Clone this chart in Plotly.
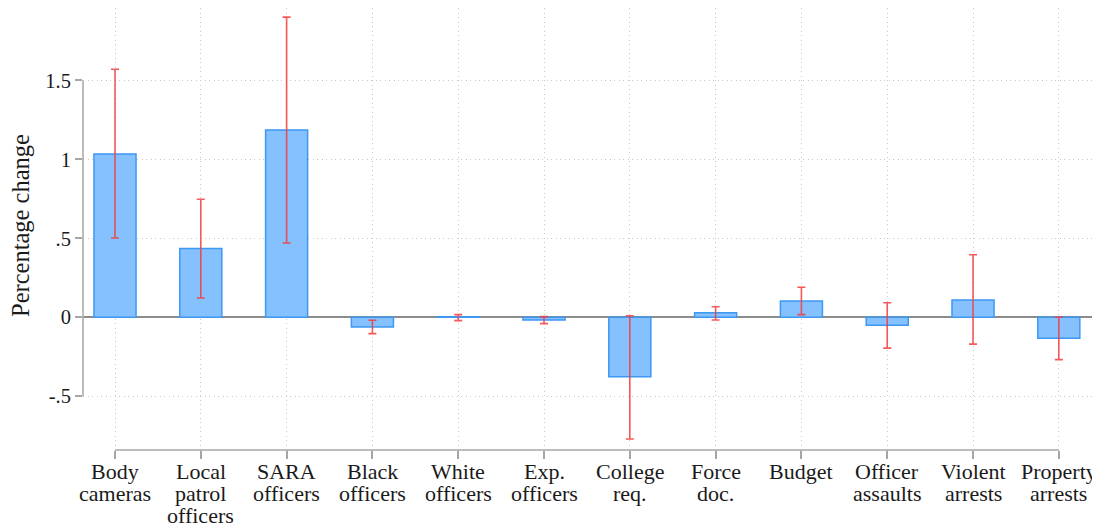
import plotly.graph_objects as go

categories = ["Body<br>cameras", "Local<br>patrol<br>officers", "SARA<br>officers", "Black<br>officers",
              "White<br>officers", "Exp.<br>officers", "College<br>req.", "Force<br>doc.", "Budget",
              "Officer<br>assaults", "Violent<br>arrests", "Property<br>arrests"]
estimates = [1.034, 0.435, 1.185, -0.061, 0.003, -0.017, -0.377, 0.029, 0.103, -0.050, 0.109, -0.133]
ci_upper = [1.570, 0.747, 1.900, -0.019, 0.017, 0.004, 0.010, 0.067, 0.190, 0.092, 0.396, 0.000]
ci_lower = [0.502, 0.122, 0.470, -0.103, -0.021, -0.040, -0.770, -0.017, 0.017, -0.195, -0.170, -0.268]
y_ticks = [-0.5, 0, 0.5, 1, 1.5]
y_tick_labels = ["-.5", "0", ".5", "1", "1.5"]
y_title = "Percentage change"

FONT = "Liberation Serif, Times New Roman, serif"
AXIS_COLOR = "#a6a6a6"
TEXT_COLOR = "#1a1a1a"
GRID_COLOR = "#c8c8c8"
GRID_DASH = "1px,3.5px"

err_plus = [u - e for u, e in zip(ci_upper, estimates)]
err_minus = [e - l for e, l in zip(estimates, ci_lower)]

fig = go.Figure()
fig.add_trace(go.Bar(
    x=categories, y=estimates, width=0.49,
    marker=dict(color="#85c1ff", line=dict(color="#3d98f2", width=1.5)),
    error_y=dict(type="data", symmetric=False, array=err_plus, arrayminus=err_minus,
                 color="rgba(245,60,60,0.85)", thickness=1.6, width=4),
    showlegend=False,
))

# Stata-style axis lines spanning only the tick range
fig.add_shape(type="line", xref="x", yref="paper", x0=categories[0], x1=categories[-1], y0=0, y1=0,
              line=dict(color=AXIS_COLOR, width=1.5))
fig.add_shape(type="line", xref="paper", yref="y", x0=0, x1=0, y0=min(y_ticks), y1=max(y_ticks),
              line=dict(color=AXIS_COLOR, width=1.5))

# x tick labels with tight line spacing (one annotation per line)
annotations = []
for cat in categories:
    for i, line in enumerate(cat.split("<br>")):
        annotations.append(dict(
            x=cat, xref="x", y=0, yref="paper", yanchor="middle", xanchor="center",
            yshift=-(21 + 22 * i), text=line, showarrow=False,
            font=dict(family=FONT, size=22, color=TEXT_COLOR),
        ))
annotations.append(dict(
    x=0, xref="paper", y=0.5, yref="paper", xanchor="center", yanchor="middle",
    xshift=-63, yshift=3, text=y_title, textangle=-90, showarrow=False,
    font=dict(family=FONT, size=24.5, color=TEXT_COLOR),
))

# page has an 8px body margin, so the figure is sized to fit the 1100x525 window
fig.update_layout(
    width=1092, height=517,
    margin=dict(l=75, r=6, t=0, b=75),
    plot_bgcolor="white", paper_bgcolor="white",
    font=dict(family=FONT, size=20, color=TEXT_COLOR),
    annotations=annotations,
)
fig.update_xaxes(
    type="category", range=[-0.373, 11.41], automargin=False,
    showline=False, ticks="outside", ticklen=8, tickcolor=AXIS_COLOR, tickwidth=1.5,
    showticklabels=False,
    showgrid=True, gridcolor=GRID_COLOR, griddash=GRID_DASH, gridwidth=1,
)
fig.update_yaxes(
    range=[-0.84, 1.958], tickvals=y_ticks, ticktext=y_tick_labels, automargin=False,
    showline=False, ticks="outside", ticklen=7, tickcolor=AXIS_COLOR, tickwidth=1.5,
    showgrid=True, gridcolor=GRID_COLOR, griddash=GRID_DASH, gridwidth=1,
    zeroline=True, zerolinecolor="#8c8c8c", zerolinewidth=1.5,
    tickfont=dict(family=FONT, size=20.5, color=TEXT_COLOR),
)

fig.write_html("out.html")
